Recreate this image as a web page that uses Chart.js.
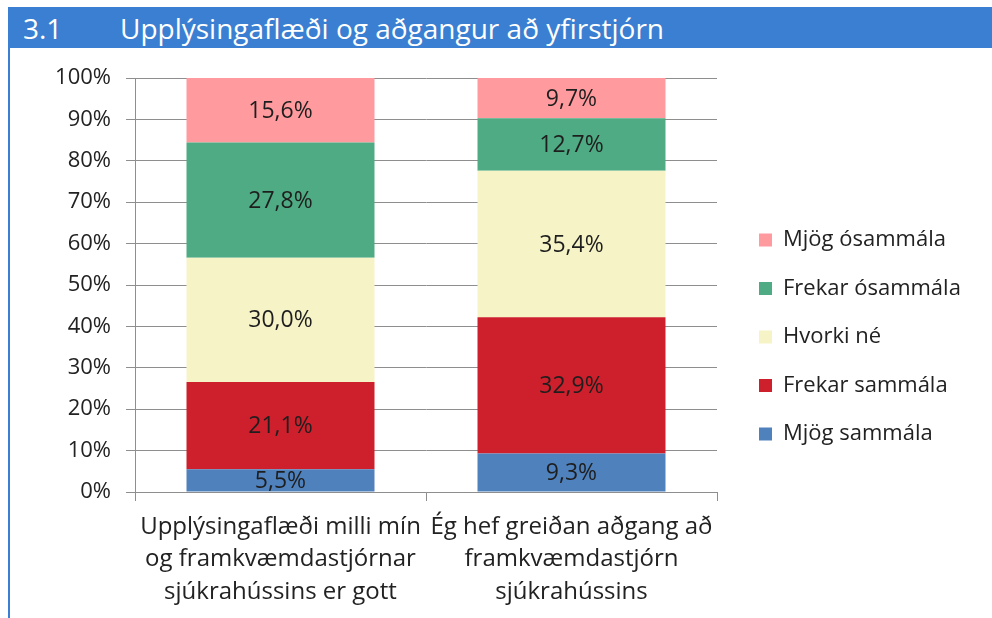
<!DOCTYPE html>
<html>
<head>
<meta charset="utf-8">
<script src="https://cdn.jsdelivr.net/npm/chart.js@4.4.1/dist/chart.umd.min.js"></script>
<style>
  body { margin: 0; background: #fff; width: 992px; height: 618px; overflow: hidden; position: relative; font-family: 'Open Sans', sans-serif; }
  #header { position: absolute; left: 8px; top: 7px; width: 984px; height: 41px; background: #3a7fd1; color: #fff; font-size: 28px; line-height: 43px; }
  #header .num { position: absolute; left: 15px; }
  #header .txt { position: absolute; left: 112px; }
  #leftline { position: absolute; left: 8px; top: 48px; width: 2px; height: 570px; background: #3a7fd1; z-index: 2; }
  #wrap { position: absolute; left: 0; top: 48px; width: 992px; height: 570px; }
</style>
</head>
<body>
<div id="header"><span class="num">3.1</span><span class="txt">Upplýsingaflæði og aðgangur að yfirstjórn</span></div>
<div id="leftline"></div>
<div id="wrap"><canvas id="chart" width="992" height="570"></canvas></div>
<script>
// gögn
const categories = [
  ['Upplýsingaflæði milli mín', 'og framkvæmdastjórnar', 'sjúkrahússins er gott'],
  ['Ég hef greiðan aðgang að', 'framkvæmdastjórn', 'sjúkrahússins']
];
const seriesNames = ['Mjög sammála', 'Frekar sammála', 'Hvorki né', 'Frekar ósammála', 'Mjög ósammála'];
const seriesColors = ['#4f81bd', '#cd202c', '#f6f3c6', '#4eab83', '#ff9b9f'];
const mjogSammala = [5.5, 9.3];
const frekarSammala = [21.1, 32.9];
const hvorkiNe = [30.0, 35.4];
const frekarOsammala = [27.8, 12.7];
const mjogOsammala = [15.6, 9.7];
const yTicks = [0, 10, 20, 30, 40, 50, 60, 70, 80, 90, 100];

const values = [mjogSammala, frekarSammala, hvorkiNe, frekarOsammala, mjogOsammala];
const gridColor = '#8e8e8e';
const fontFamily = "'Open Sans', sans-serif";

Chart.defaults.font.family = fontFamily;
Chart.defaults.color = '#222';

// skýringar: breidd mæld svo að þær lendi á réttum stað
const legendFont = 22;
const legendPad = 26.5;
const measureCtx = document.createElement('canvas').getContext('2d');
measureCtx.font = legendFont + 'px ' + fontFamily;
const maxText = Math.max(...seriesNames.map(n => measureCtx.measureText(n).width));
const legendWidth = legendPad + 13 + legendFont / 2 + maxText + 10;
const rightPad = Math.max(0, 992 - 732.5 - legendWidth);

// prósentutölur inni í súlunum
const barLabels = {
  id: 'barLabels',
  afterDatasetsDraw(chart) {
    const ctx = chart.ctx;
    ctx.save();
    ctx.font = '23px ' + fontFamily;
    ctx.fillStyle = '#1e1e1e';
    ctx.textAlign = 'center';
    ctx.textBaseline = 'middle';
    chart.data.datasets.forEach((ds, i) => {
      chart.getDatasetMeta(i).data.forEach((bar, j) => {
        const v = ds.data[j];
        ctx.fillText(v.toFixed(1).replace('.', ',') + '%', bar.x, (bar.y + bar.base) / 2 + 1);
      });
    });
    ctx.restore();
  }
};

new Chart(document.getElementById('chart').getContext('2d'), {
  type: 'bar',
  data: {
    labels: categories,
    datasets: seriesNames.map((name, i) => ({
      label: name,
      data: values[i],
      backgroundColor: seriesColors[i],
      barPercentage: 0.646,
      categoryPercentage: 1
    }))
  },
  options: {
    responsive: false,
    animation: false,
    layout: { padding: { left: 0, right: rightPad, top: 0, bottom: -8 } },
    plugins: {
      legend: {
        position: 'right',
        reverse: true,
        labels: { boxWidth: 13, boxHeight: 13, padding: legendPad, font: { size: legendFont }, color: '#222' }
      },
      tooltip: { enabled: false }
    },
    scales: {
      x: {
        stacked: true,
        grid: { drawOnChartArea: false, color: gridColor, tickLength: 9, offset: true },
        border: { color: gridColor },
        ticks: { font: { size: 24, lineHeight: 1.35 }, color: '#222', padding: 10, maxRotation: 0 },
        afterFit(s) { s.height = 134; }
      },
      xTop: {
        position: 'top',
        display: false,
        afterFit(s) { s.height = 30; }
      },
      y: {
        stacked: true,
        min: 0,
        max: 100,
        afterBuildTicks(s) { s.ticks = yTicks.map(v => ({ value: v })); },
        grid: { color: gridColor, tickLength: 9 },
        border: { color: gridColor },
        ticks: { font: { size: 22 }, color: '#222', padding: 15, callback: v => v + '%' },
        afterFit(s) { s.width = 135; }
      },
      yRight: {
        position: 'right',
        display: false,
        afterFit(s) { s.width = 15.5; }
      }
    }
  },
  plugins: [barLabels]
});
</script>
</body>
</html>
